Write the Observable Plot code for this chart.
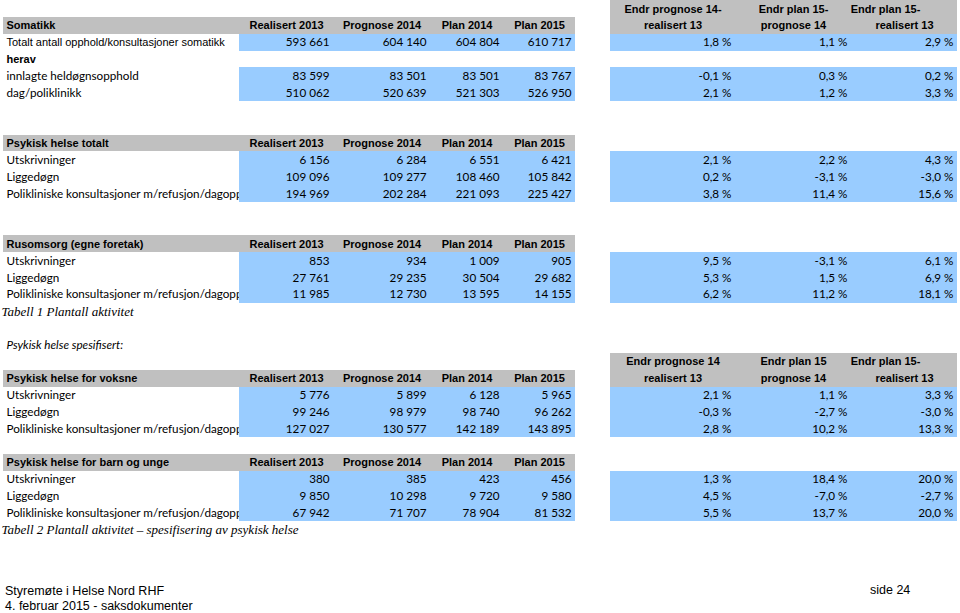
<!DOCTYPE html>
<html><head><meta charset="utf-8">
<script src="https://cdn.jsdelivr.net/npm/d3@7"></script>
<script src="https://cdn.jsdelivr.net/npm/@observablehq/plot@0.6"></script>
<style>
body{margin:0;background:#fff;}
#footer{position:relative;height:35px;font-family:"Liberation Sans",Arial,sans-serif;font-size:12.5px;line-height:15px;color:#000;}
#footer .l{position:absolute;left:5px;top:6px;}
#footer .r{position:absolute;left:870px;top:5px;}
</style></head><body>
<div id="chart"></div>
<div id="footer"><div class="l">Styremøte i Helse Nord RHF<br>4. februar 2015 - saksdokumenter</div><div class="r">side 24</div></div>
<script>
// ---------- DATA ----------
const valueColumns = ["Realisert 2013", "Prognose 2014", "Plan 2014", "Plan 2015"];
const changeHeadsA = [["Endr prognose 14-", "realisert 13"], ["Endr plan 15-", "prognose 14"], ["Endr plan 15-", "realisert 13"]];
const changeHeadsB = [["Endr prognose 14", "realisert 13"], ["Endr plan 15", "prognose 14"], ["Endr plan 15-", "realisert 13"]];

const somatikkLabels = ["Totalt antall opphold/konsultasjoner somatikk", "herav", "innlagte heldøgnsopphold", "dag/poliklinikk"];
const somatikkValues = [[593661, 604140, 604804, 610717], null, [83599, 83501, 83501, 83767], [510062, 520639, 521303, 526950]];
const somatikkChange = [[1.8, 1.1, 2.9], null, [-0.1, 0.3, 0.2], [2.1, 1.2, 3.3]];

const activityLabels = ["Utskrivninger", "Liggedøgn", "Polikliniske konsultasjoner m/refusjon/dagopp"];

const psykTotalValues = [[6156, 6284, 6551, 6421], [109096, 109277, 108460, 105842], [194969, 202284, 221093, 225427]];
const psykTotalChange = [[2.1, 2.2, 4.3], [0.2, -3.1, -3.0], [3.8, 11.4, 15.6]];

const rusValues = [[853, 934, 1009, 905], [27761, 29235, 30504, 29682], [11985, 12730, 13595, 14155]];
const rusChange = [[9.5, -3.1, 6.1], [5.3, 1.5, 6.9], [6.2, 11.2, 18.1]];

const voksneValues = [[5776, 5899, 6128, 5965], [99246, 98979, 98740, 96262], [127027, 130577, 142189, 143895]];
const voksneChange = [[2.1, 1.1, 3.3], [-0.3, -2.7, -3.0], [2.8, 10.2, 13.3]];

const bupValues = [[380, 385, 423, 456], [9850, 10298, 9720, 9580], [67942, 71707, 78904, 81532]];
const bupChange = [[1.3, 18.4, 20.0], [4.5, -7.0, -2.7], [5.5, 13.7, 20.0]];

const sectionTitles = ["Somatikk", "Psykisk helse totalt", "Rusomsorg (egne foretak)", "Psykisk helse for voksne", "Psykisk helse for barn og unge"];
const captionTexts = ["Tabell 1 Plantall aktivitet", "Psykisk helse spesifisert:", "Tabell 2 Plantall aktivitet – spesifisering av psykisk helse"];

// ---------- LAYOUT (spreadsheet grid) ----------
const pitch = 16.8, nRows = 34.2;
const valueEdges = [239, 333, 430, 503, 575];
const changeEdges = [610, 735, 851, 957];
const headBand = [3, 575];
const labelX = 6;
const headShift = [0, 0, -19];       // first header line offset of each change column
const sectionRows = [1, 8, 14, 22, 27];
const captionRows = [18, 20, 31];
const captionStyle = ["serif", "sans", "serif"];
const somatikkStyle = ["arial", "arialBold", "body", "body"];

const sections = [
  {labels: somatikkLabels, values: somatikkValues, change: somatikkChange, heads: changeHeadsA, styles: somatikkStyle},
  {labels: activityLabels, values: psykTotalValues, change: psykTotalChange},
  {labels: activityLabels, values: rusValues, change: rusChange},
  {labels: activityLabels, values: voksneValues, change: voksneChange, heads: changeHeadsB},
  {labels: activityLabels, values: bupValues, change: bupChange}
];

// ---------- FORMAT ----------
const loc = d3.formatLocale({decimal: ",", thousands: "\u00a0", grouping: [3], currency: ["", " kr"], minus: "-"});
const fmtInt = loc.format(",d");
const fmtOne = loc.format(".1f");
const fmtPct = v => fmtOne(v) + "\u00a0%";

// ---------- BUILD ----------
const grey = [], blue = [], headStart = [], headMid = [], arial = [], arialBold = [], body = [], nums = [];
sections.forEach((s, si) => {
  const h = sectionRows[si];
  grey.push({x1: headBand[0], x2: headBand[1], y1: h, y2: h + 1});
  headStart.push({x: labelX, y: h + 0.5, text: sectionTitles[si]});
  valueColumns.forEach((c, j) => headMid.push({x: (valueEdges[j] + valueEdges[j + 1]) / 2, y: h + 0.5, text: c}));
  if (s.heads) {
    grey.push({x1: changeEdges[0], x2: changeEdges[3], y1: h - 1, y2: h + 1});
    s.heads.forEach((lines, j) => lines.forEach((t, k) =>
      headMid.push({x: (changeEdges[j] + changeEdges[j + 1]) / 2 + (k === 0 ? headShift[j] : 0), y: h - 1 + k + 0.5, text: t})));
  }
  s.labels.forEach((lab, i) => {
    const r = h + 1 + i;
    const style = s.styles ? s.styles[i] : "body";
    const rec = {x: labelX, y: r + 0.5, text: lab};
    (style === "arial" ? arial : style === "arialBold" ? arialBold : body).push(rec);
    const v = s.values[i];
    if (v) {
      v.forEach((val, j) => {
        blue.push({x1: valueEdges[j], x2: valueEdges[j + 1], y1: r, y2: r + 1});
        nums.push({x: valueEdges[j + 1], y: r + 0.5, text: fmtInt(val)});
      });
      s.change[i].forEach((val, j) => {
        blue.push({x1: changeEdges[j], x2: changeEdges[j + 1], y1: r, y2: r + 1});
        nums.push({x: changeEdges[j + 1], y: r + 0.5, text: fmtPct(val)});
      });
    }
  });
});
const captions = captionTexts.map((t, i) => ({x: labelX - 5, y: captionRows[i] + 0.5, text: t, style: captionStyle[i]}));

const lato = "Lato, 'Open Sans', sans-serif";
const arialF = "'Liberation Sans', Arial, sans-serif";

const chart = Plot.plot({
  width: 960,
  height: 578,
  margin: 0,
  x: {type: "linear", domain: [0, 960], range: [0, 960], axis: null},
  y: {type: "linear", domain: [0, nRows], range: [0.2, 0.2 + nRows * pitch], axis: null},
  marks: [
    Plot.rect(grey, {x1: "x1", x2: "x2", y1: "y1", y2: "y2", fill: "#c0c0c0", shapeRendering: "crispEdges"}),
    Plot.text(headStart, {x: "x", y: "y", text: "text", textAnchor: "start", fontFamily: arialF, fontWeight: "bold", fontSize: 11, fill: "#000"}),
    Plot.text(headMid, {x: "x", y: "y", text: "text", textAnchor: "middle", fontFamily: arialF, fontWeight: "bold", fontSize: 11, fill: "#000"}),
    Plot.text(arial, {x: "x", y: "y", text: "text", textAnchor: "start", fontFamily: arialF, fontSize: 11, fill: "#000"}),
    Plot.text(arialBold, {x: "x", y: "y", text: "text", textAnchor: "start", fontFamily: arialF, fontWeight: "bold", fontSize: 11, fill: "#000"}),
    Plot.text(body, {x: "x", y: "y", text: "text", textAnchor: "start", fontFamily: lato, fontSize: 11.7, fill: "#000"}),
    Plot.rect(blue, {x1: "x1", x2: "x2", y1: "y1", y2: "y2", fill: "#99ccff", shapeRendering: "crispEdges"}),
    Plot.text(nums, {x: "x", y: "y", text: "text", textAnchor: "end", dx: -4, fontFamily: lato, fontSize: 11.7, fill: "#000"}),
    Plot.text(captions.filter(d => d.style === "serif"), {x: "x", y: "y", text: "text", textAnchor: "start", fontFamily: "'Liberation Serif', serif", fontStyle: "italic", fontSize: 13, fill: "#000"}),
    Plot.text(captions.filter(d => d.style === "sans"), {x: "x", y: "y", text: "text", textAnchor: "start", dx: 5, fontFamily: lato, fontStyle: "italic", fontSize: 11.7, fill: "#000"})
  ]
});
document.getElementById("chart").appendChild(chart);
</script>
</body></html>
